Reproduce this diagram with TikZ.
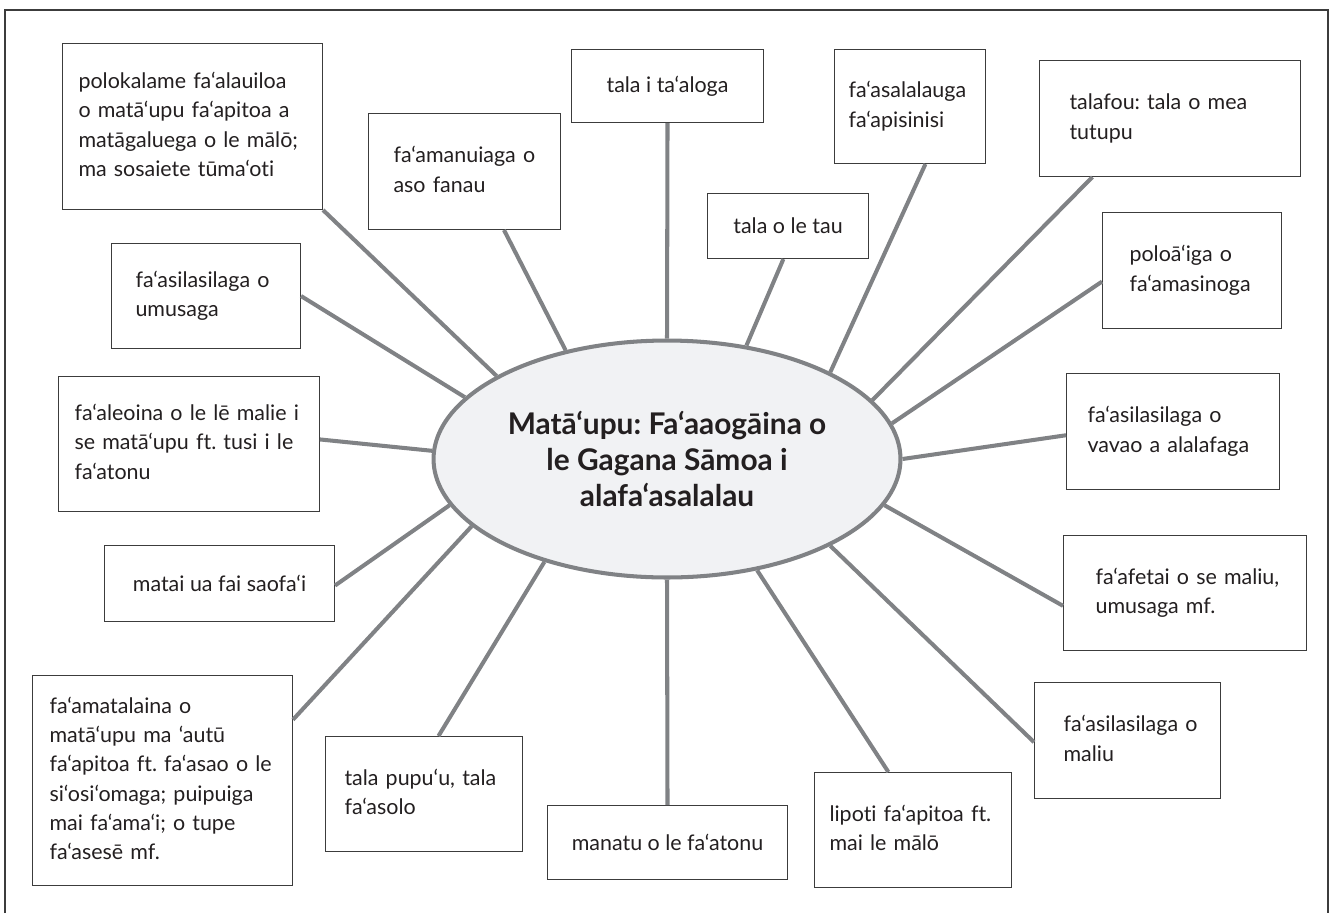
\documentclass[tikz,border=0pt]{standalone}
\usepackage{fontspec}
\setmainfont{Lato}[Ligatures=CommonOff]
\usetikzlibrary{shapes.geometric}

\definecolor{spokegray}{HTML}{808285}
\definecolor{hubfill}{HTML}{F1F2F4}
\definecolor{boxline}{HTML}{3C3C3C}
\definecolor{ink}{HTML}{231F20}

\newcommand{\boxfont}{\fontsize{12.2}{16.7}\selectfont}
\newcommand{\hubfont}{\fontsize{17}{20.4}\selectfont\bfseries}
% lines of a box, set as given (no rewrapping)
\newcommand{\lines}[1]{\begin{tabular}{@{}l@{}}#1\end{tabular}}
\frenchspacing

\begin{document}
\begin{tikzpicture}[x=0.02cm,y=-0.02cm,
  idea/.style={draw=boxline,line width=0.6pt,anchor=north west,align=left,
    inner sep=0pt,font=\boxfont,text=ink},
  ideac/.style={idea,align=center},
  spoke/.style={draw=spokegray,line width=2.3pt}]
 \useasboundingbox (0,0) rectangle (1337,913);
 \draw[boxline,line width=0.8pt] (5,913) -- (5,10) -- (1328,10) -- (1328,913);

 \node[ellipse,draw=spokegray,fill=hubfill,line width=2.3pt,minimum width=9.34cm,
   minimum height=4.74cm,align=center,font=\hubfont,text=ink] (hub) at (667,459)
   {Matā‘upu: Fa‘aaogāina o\\ le Gagana Sāmoa i\\ alafa‘asalalau};

 \node[idea,minimum width=5.2cm,minimum height=3.32cm,text width=4.56cm] (promo) at (62,43)
   {\lines{polokalame fa‘alauiloa\\ o matā‘upu fa‘apitoa a\\ matāgaluega o le mālō;\\ ma sosaiete tūma‘oti}};
 \node[idea,minimum width=3.84cm,minimum height=2.32cm,text width=2.84cm] (bday) at (368,113)
   {\lines{fa‘amanuiaga o\\ aso fanau}};
 \node[ideac,minimum width=3.84cm,minimum height=1.46cm] (sport) at (571,49)
   {tala i ta‘aloga};
 \node[ideac,minimum width=3.22cm,minimum height=1.3cm] (weather) at (707,193)
   {tala o le tau};
 \node[idea,minimum width=3.02cm,minimum height=2.28cm,text width=2.46cm] (ads) at (834,49)
   {\lines{fa‘asalalauga\\ fa‘apisinisi}};
 \node[idea,minimum width=5.22cm,minimum height=2.32cm,text width=4.02cm] (news) at (1039,60)
   {\lines{talafou: tala o mea\\ tutupu}};
 \node[idea,minimum width=3.58cm,minimum height=2.32cm,text width=2.5cm] (court) at (1102,212)
   {\lines{poloā‘iga o\\ fa‘amasinoga}};
 \node[idea,minimum width=3.78cm,minimum height=2.1cm,text width=2.82cm] (wedding) at (111,243)
   {\lines{fa‘asilasilaga o\\ umusaga}};
 \node[idea,minimum width=5.22cm,minimum height=2.7cm,text width=4.58cm] (reading) at (58,376)
   {\lines{fa‘aleoina o le lē malie i\\ se matā‘upu ft. tusi i le\\ fa‘atonu}};
 \node[ideac,minimum width=4.6cm,minimum height=1.52cm] (title) at (104,545)
   {matai ua fai saofa‘i};
 \node[idea,minimum width=5.2cm,minimum height=4.2cm,text width=4.52cm] (explain) at (32,675)
   {\lines{fa‘amatalaina o\\ matā‘upu ma ‘autū\\ fa‘apitoa ft. fa‘asao o le\\ si‘osi‘omaga; puipuiga\\ mai fa‘ama‘i; o tupe\\ fa‘asesē mf.}};
 \node[idea,minimum width=3.94cm,minimum height=2.3cm,text width=3.18cm] (story) at (325,736)
   {\lines{tala pupu‘u, tala\\ fa‘asolo}};
 \node[ideac,minimum width=4.8cm,minimum height=1.48cm] (editor) at (547,805)
   {manatu o le fa‘atonu};
 \node[idea,minimum width=3.94cm,minimum height=2.3cm,text width=3.34cm] (report) at (814,772)
   {\lines{lipoti fa‘apitoa ft.\\ mai le mālō}};
 \node[idea,minimum width=3.72cm,minimum height=2.32cm,text width=2.56cm] (death) at (1034,682)
   {\lines{fa‘asilasilaga o\\ maliu}};
 \node[idea,minimum width=4.86cm,minimum height=2.3cm,text width=3.58cm] (thanks) at (1063,535)
   {\lines{fa‘afetai o se maliu,\\ umusaga mf.}};
 \node[idea,minimum width=4.26cm,minimum height=2.32cm,text width=3.42cm] (ban) at (1066,373)
   {\lines{fa‘asilasilaga o\\ vavao a alalafaga}};

 \path[spoke]
  (promo.south east) edge (hub.154.8)
  (bday.-56) edge (hub.133.9)
  (sport.south) edge (hub.north)
  (weather.-98) edge (hub.55.3)
  (ads.-75) edge (hub.28.5)
  (news.-143.5) edge (hub.16.8)
  (court.187) edge (hub.9)
  (ban.182.7) edge (hub.-0.5)
  (thanks.186.3) edge (hub.-12.7)
  (death.181.8) edge (hub.-28.8)
  (report.113.9) edge (hub.-51.4)
  (editor.north) edge (hub.south)
  (story.76.8) edge (hub.220)
  (explain.25.1) edge (hub.199)
  (title.-1.5) edge (hub.192.3)
  (reading.2.4) edge (hub.178)
  (wedding.east) edge (hub.163.2);
\end{tikzpicture}
\end{document}
